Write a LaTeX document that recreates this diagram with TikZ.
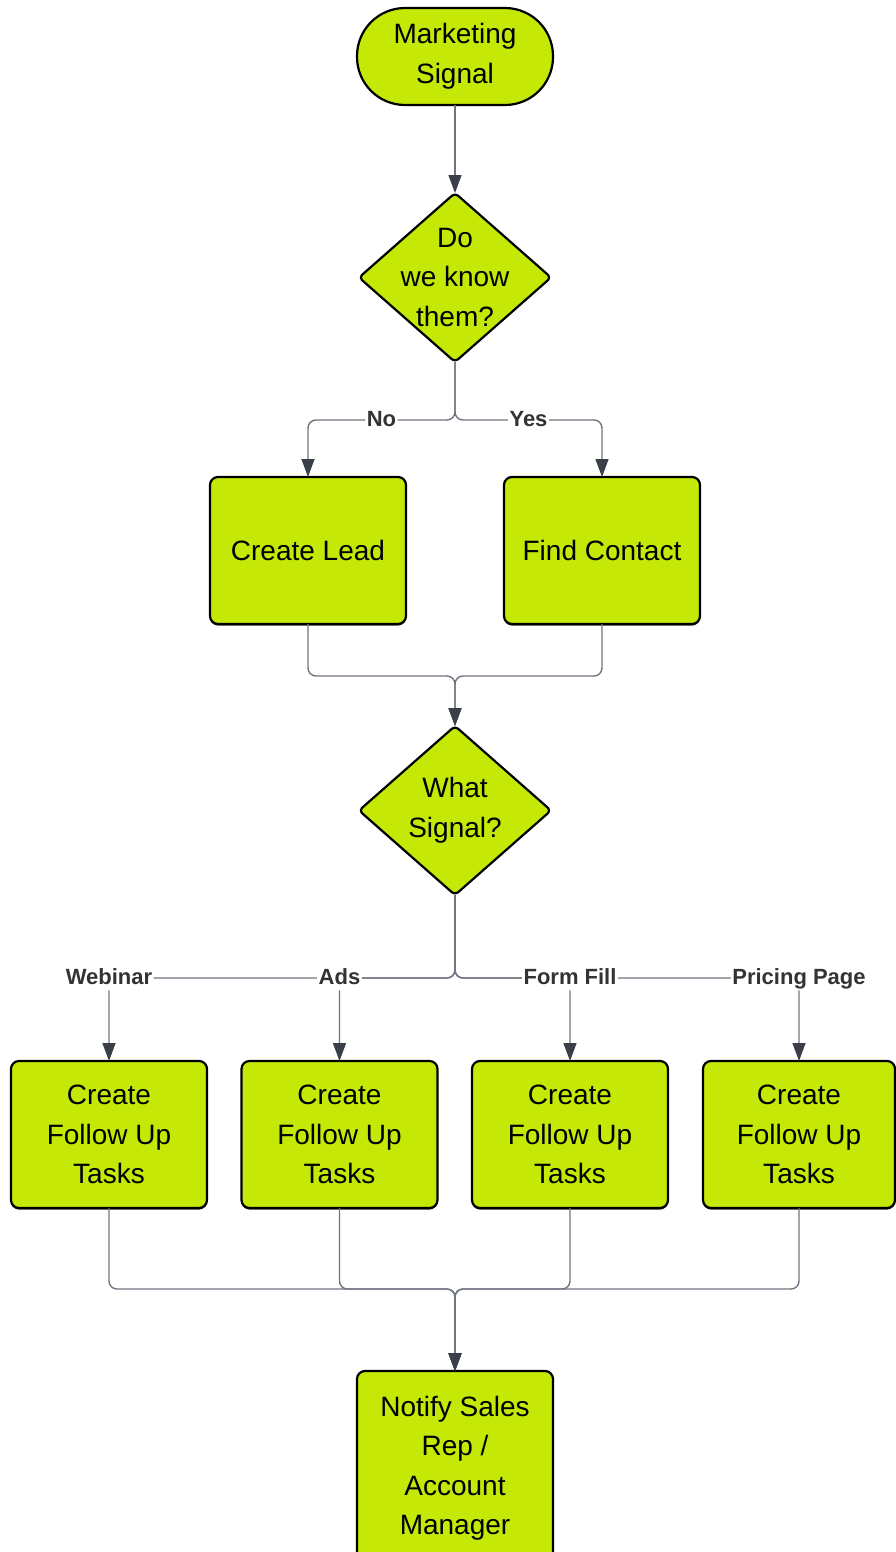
\documentclass[tikz,border=0pt]{standalone}
\usepackage{fontspec}
\setmainfont{Liberation Sans}
\usetikzlibrary{arrows.meta,backgrounds,shadows}
\definecolor{stepfill}{RGB}{197,232,7}
\definecolor{linegrey}{RGB}{110,116,128}
\definecolor{tipdark}{RGB}{58,63,72}
\definecolor{labelgrey}{RGB}{51,51,51}
\begin{document}
\begin{tikzpicture}[x=1pt,y=-1pt,
  every node/.style={inner sep=0pt, outer sep=0pt},
  mainfont/.style={font=\fontsize{28}{39.5}\selectfont},
  stepbox/.style={mainfont, rectangle, rounded corners=8pt, draw=black, line width=2.2pt,
    fill=stepfill, minimum width=196pt, minimum height=147pt, align=center,
    drop shadow={shadow xshift=0pt, shadow yshift=-1.6pt, fill=black, opacity=0.8}},
  termbox/.style={mainfont, rectangle, rounded corners=48pt, draw=black, line width=2.2pt,
    fill=stepfill, minimum width=196pt, minimum height=97pt, align=center},
  decbox/.style={mainfont, rectangle, minimum width=192pt, minimum height=169pt, align=center},
  decshape/.style={draw=black, line width=2.2pt, fill=stepfill, rounded corners=4pt, line join=round},
  conn/.style={draw=linegrey, line width=1.4pt, rounded corners=8pt,
    -{Triangle[width=13pt,length=18pt,color=tipdark]}},
  lbl/.style={font=\fontsize{22}{24}\selectfont\bfseries, text=labelgrey, fill=white,
    inner xsep=1.5pt, inner ysep=1pt, text height=16pt, text depth=4.5pt, yshift=-1pt}
]
\useasboundingbox (0,0) rectangle (896,1552);

% nodes
\node[termbox] (start) at (455,56.5) {Marketing\\Signal};
\node[decbox] (d1) at (455,277.5) {Do\\we know\\them?};
\node[stepbox] (lead) at (308,550.5) {Create Lead};
\node[stepbox] (contact) at (602,550.5) {Find Contact};
\node[decbox] (d2) at (455,810.5) {What\\Signal?};
\node[stepbox] (t1) at (109,1134.5) {Create\\Follow Up\\Tasks};
\node[stepbox] (t2) at (339.5,1134.5) {Create\\Follow Up\\Tasks};
\node[stepbox] (t3) at (570,1134.5) {Create\\Follow Up\\Tasks};
\node[stepbox, minimum width=192pt] (t4) at (799,1134.5) {Create\\Follow Up\\Tasks};
\node[stepbox, minimum height=194pt] (notify) at (455,1468) {Notify Sales\\Rep /\\Account\\Manager};

% decision diamonds behind their text
\begin{scope}[on background layer]
  \draw[decshape] (d1.north) -- (d1.east) -- (d1.south) -- (d1.west) -- cycle;
  \draw[decshape] (d2.north) -- (d2.east) -- (d2.south) -- (d2.west) -- cycle;
\end{scope}

% connectors
\draw[conn] (start.south) -- (d1.north);
\draw[conn] (d1.south) -- ++(0,58) -| node[lbl,pos=0.25]{No} (lead.north);
\draw[conn] (d1.south) -- ++(0,58) -| node[lbl,pos=0.25]{Yes} (contact.north);
\draw[conn] (lead.south) -- ++(0,52) -| (d2.north);
\draw[conn] (contact.south) -- ++(0,52) -| (d2.north);

\draw[conn] (d2.south) -- ++(0,83) -| node[lbl,pos=0.5]{Webinar} (t1.north);
\draw[conn] (d2.south) -- ++(0,83) -| node[lbl,pos=0.5]{Ads} (t2.north);
\draw[conn] (d2.south) -- ++(0,83) -| node[lbl,pos=0.5]{Pricing Page} (t4.north);
\draw[conn] (d2.south) -- ++(0,83) -| node[lbl,pos=0.5]{Form Fill} (t3.north);

\draw[conn] (t1.south) -- ++(0,81) -| (notify.north);
\draw[conn] (t2.south) -- ++(0,81) -| (notify.north);
\draw[conn] (t3.south) -- ++(0,81) -| (notify.north);
\draw[conn] (t4.south) -- ++(0,81) -| (notify.north);
\end{tikzpicture}
\end{document}
